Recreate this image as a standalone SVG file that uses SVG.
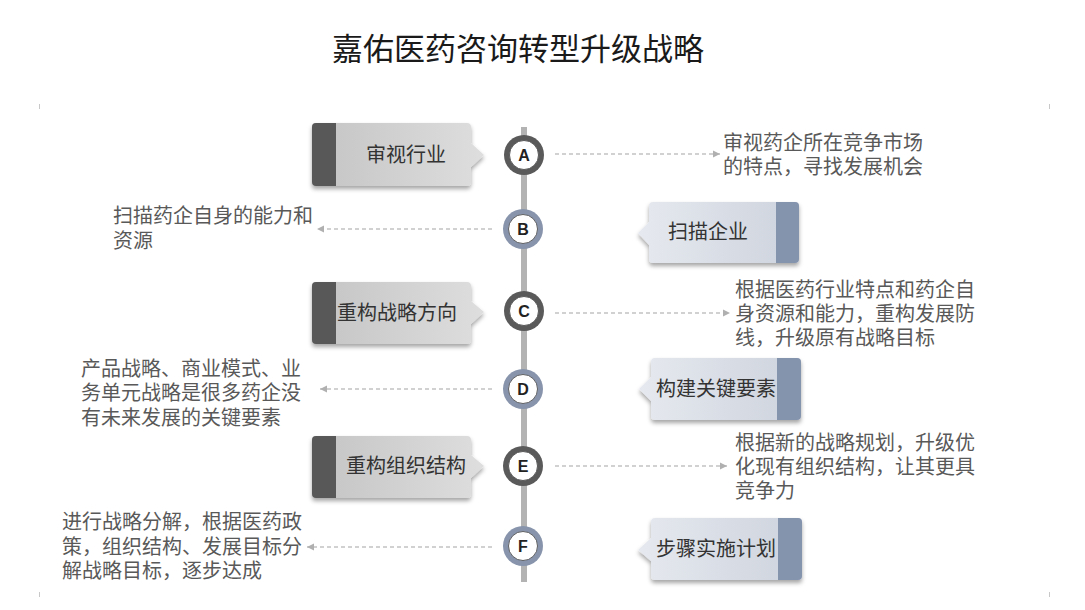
<svg xmlns="http://www.w3.org/2000/svg" width="1085" height="610" viewBox="0 0 1085 610">
<defs>
<linearGradient id="gl" x1="0" y1="0" x2="1" y2="0"><stop offset="0" stop-color="#c4c4c4"/><stop offset="1" stop-color="#dedede"/></linearGradient>
<linearGradient id="gr" x1="0" y1="0" x2="1" y2="0"><stop offset="0" stop-color="#e6e9ef"/><stop offset="1" stop-color="#cdd3dd"/></linearGradient>
<filter id="sh" x="-10%" y="-10%" width="120%" height="130%"><feDropShadow dx="0" dy="3" stdDeviation="2" flood-color="#000" flood-opacity="0.35"/></filter>
<marker id="ar" markerWidth="8" markerHeight="8" refX="7" refY="4" orient="auto" markerUnits="userSpaceOnUse"><path d="M0,0.5 L7,4 L0,7.5 Z" fill="#b0b0b0"/></marker>
</defs>
<style>
.t{font-family:"Noto Sans CJK SC","Liberation Sans",sans-serif;}
.title{font-size:31px;fill:#1a1a1a;}
.lbl{font-size:20px;fill:#333;}
.desc{font-size:20px;fill:#595959;}
.let{font-family:"Liberation Sans",Arial,sans-serif;font-size:16px;font-weight:bold;fill:#222;text-anchor:middle;}
.dash{stroke:#c2c2c2;stroke-width:1.3;stroke-dasharray:4 3;fill:none;marker-end:url(#ar);}
.tick{stroke:#c8c8c8;stroke-width:1;}
.rd{fill:#5a5a5a;}
.rb{fill:#8794ac;}
.in{fill:#fff;stroke:#444;stroke-width:0.8;}
</style>
<rect width="1085" height="610" fill="#fff"/>
<g id="ticks">
<line class="tick" x1="39.5" y1="104" x2="39.5" y2="109"/>
<line class="tick" x1="1049.5" y1="104" x2="1049.5" y2="109"/>
<line class="tick" x1="39.5" y1="592" x2="39.5" y2="597"/>
<line class="tick" x1="1049.5" y1="592" x2="1049.5" y2="597"/>
</g>
<text id="title" class="t title" x="518" y="60" text-anchor="middle">嘉佑医药咨询转型升级战略</text>
<g id="connectors">
<rect x="521" y="127" width="6" height="455" fill="#b3b3b3"/>
<line class="dash" x1="555" y1="154" x2="720" y2="154"/>
<line class="dash" x1="492" y1="229" x2="317" y2="229"/>
<line class="dash" x1="555" y1="313" x2="730" y2="313"/>
<line class="dash" x1="492" y1="389" x2="320" y2="389"/>
<line class="dash" x1="555" y1="466" x2="727" y2="466"/>
<line class="dash" x1="492" y1="547" x2="307" y2="547"/>
</g>
<g id="nodeA">
<g filter="url(#sh)"><path d="M316,123 H467 Q471,123 471,127 V143 L484,155 L471,167 V182 Q471,186 467,186 H316 Q312,186 312,182 V127 Q312,123 316,123 Z" fill="url(#gl)"/>
<path d="M316,123 H336 V186 H316 Q312,186 312,182 V127 Q312,123 316,123 Z" fill="#595959"/></g>
<text class="t lbl" x="366" y="162">审视行业</text>
<circle class="rd" cx="524" cy="155" r="20"/><circle class="in" cx="524" cy="155" r="14.5"/>
<text class="let" x="524" y="161">A</text>
<text class="t desc" x="723" y="150">审视药企所在竞争市场<tspan x="723" dy="24">的特点，寻找发展机会</tspan></text>
</g>
<g id="nodeB">
<g filter="url(#sh)"><path d="M653,202 H795 Q799,202 799,206 V259 Q799,263 795,263 H653 Q649,263 649,259 V245 L638,233 L649,222 V206 Q649,202 653,202 Z" fill="url(#gr)"/>
<path d="M776,202 H795 Q799,202 799,206 V259 Q799,263 795,263 H776 Z" fill="#8594ad"/></g>
<text class="t lbl" x="668" y="239">扫描企业</text>
<circle class="rb" cx="523" cy="229" r="20"/><circle class="in" cx="523" cy="229" r="14.5"/>
<text class="let" x="523" y="235">B</text>
<text class="t desc" x="113" y="223">扫描药企自身的能力和<tspan x="113" dy="25">资源</tspan></text>
</g>
<g id="nodeC">
<g filter="url(#sh)"><path d="M316,282 H467 Q471,282 471,286 V301 L484,312 L471,324 V340 Q471,344 467,344 H316 Q312,344 312,340 V286 Q312,282 316,282 Z" fill="url(#gl)"/>
<path d="M316,282 H336 V344 H316 Q312,344 312,340 V286 Q312,282 316,282 Z" fill="#595959"/></g>
<text class="t lbl" x="337" y="320">重构战略方向</text>
<circle class="rd" cx="524" cy="311" r="20"/><circle class="in" cx="524" cy="311" r="14.5"/>
<text class="let" x="524" y="317">C</text>
<text class="t desc" x="735" y="297">根据医药行业特点和药企自<tspan x="735" dy="24">身资源和能力，重构发展防</tspan><tspan x="735" dy="24">线，升级原有战略目标</tspan></text>
</g>
<g id="nodeD">
<g filter="url(#sh)"><path d="M655,358 H797 Q801,358 801,362 V416 Q801,420 797,420 H655 Q651,420 651,416 V401 L639,389 L651,377 V362 Q651,358 655,358 Z" fill="url(#gr)"/>
<path d="M777,358 H797 Q801,358 801,362 V416 Q801,420 797,420 H777 Z" fill="#8594ad"/></g>
<text class="t lbl" x="656" y="396">构建关键要素</text>
<circle class="rb" cx="523" cy="389" r="20"/><circle class="in" cx="523" cy="389" r="14.5"/>
<text class="let" x="523" y="395">D</text>
<text class="t desc" x="81" y="376">产品战略、商业模式、业<tspan x="81" dy="24">务单元战略是很多药企没</tspan><tspan x="81" dy="25">有未来发展的关键要素</tspan></text>
</g>
<g id="nodeE">
<g filter="url(#sh)"><path d="M316,436 H467 Q471,436 471,440 V455 L484,466 L471,478 V494 Q471,498 467,498 H316 Q312,498 312,494 V440 Q312,436 316,436 Z" fill="url(#gl)"/>
<path d="M316,436 H336 V498 H316 Q312,498 312,494 V440 Q312,436 316,436 Z" fill="#595959"/></g>
<text class="t lbl" x="346" y="473">重构组织结构</text>
<circle class="rd" cx="523" cy="466" r="20"/><circle class="in" cx="523" cy="466" r="14.5"/>
<text class="let" x="523" y="472">E</text>
<text class="t desc" x="735" y="450">根据新的战略规划，升级优<tspan x="735" dy="24">化现有组织结构，让其更具</tspan><tspan x="735" dy="24">竞争力</tspan></text>
</g>
<g id="nodeF">
<g filter="url(#sh)"><path d="M655,518 H798 Q802,518 802,522 V576 Q802,580 798,580 H655 Q651,580 651,576 V561 L638,550 L651,538 V522 Q651,518 655,518 Z" fill="url(#gr)"/>
<path d="M778,518 H798 Q802,518 802,522 V576 Q802,580 798,580 H778 Z" fill="#8594ad"/></g>
<text class="t lbl" x="656" y="556">步骤实施计划</text>
<circle class="rb" cx="523" cy="546" r="20"/><circle class="in" cx="523" cy="546" r="14.5"/>
<text class="let" x="523" y="552">F</text>
<text class="t desc" x="62" y="529">进行战略分解，根据医药政<tspan x="62" dy="25">策，组织结构、发展目标分</tspan><tspan x="62" dy="24">解战略目标，逐步达成</tspan></text>
</g>
</svg>
